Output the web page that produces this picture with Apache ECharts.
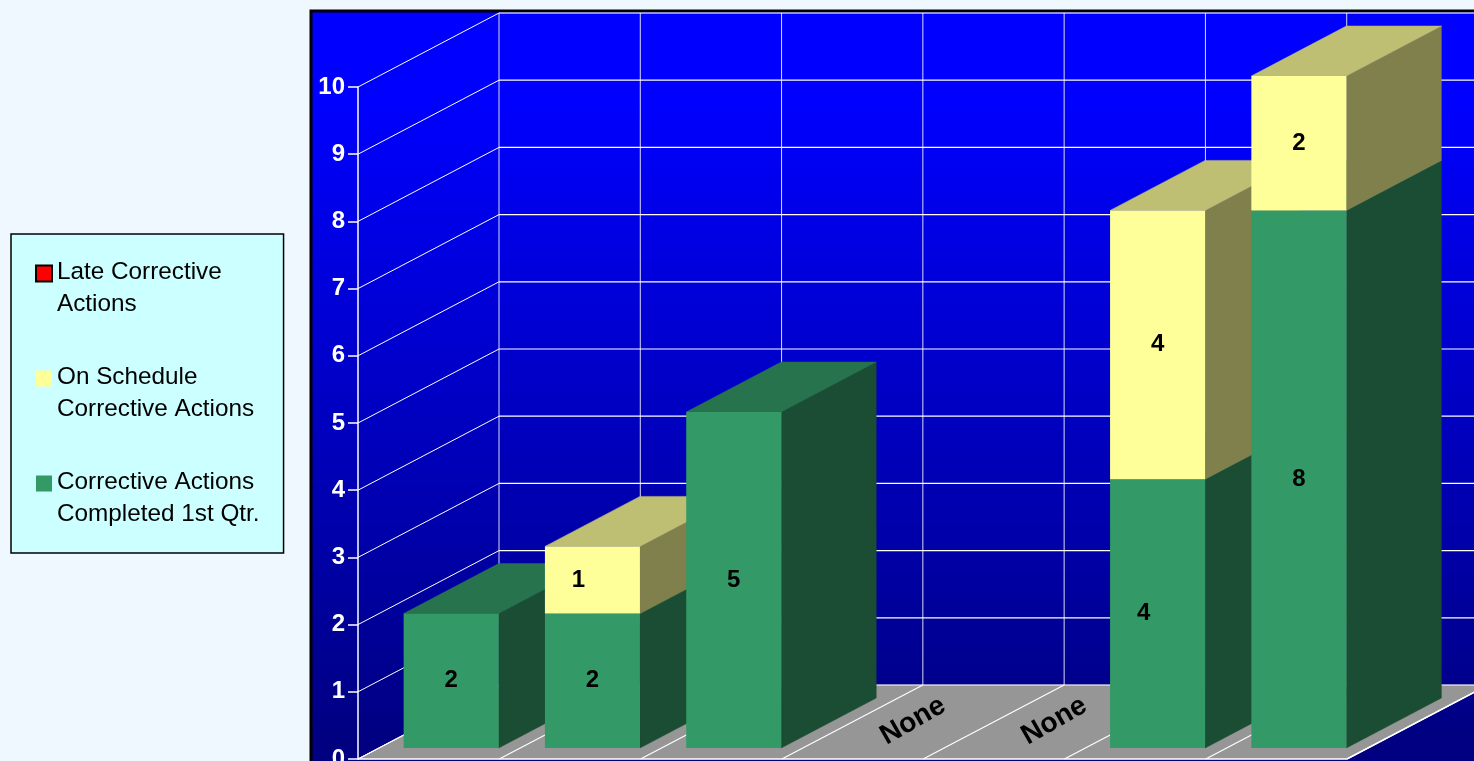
<!DOCTYPE html>
<html><head><meta charset="utf-8">
<style>html,body{margin:0;padding:0;background:#F0F8FF;overflow:hidden}#c{width:1474px;height:761px}</style>
<script src="https://cdn.jsdelivr.net/npm/echarts@6/dist/echarts.min.js"></script>
</head><body><div id="c"></div>
<script>
const categories = ['1', '2', '3', '4', '5', '6', '7'];
const seriesNames = ['Late Corrective\nActions', 'On Schedule\nCorrective Actions', 'Corrective Actions\nCompleted 1st Qtr.'];
const completed = [2, 2, 5, 0, 0, 4, 8];
const onSchedule = [0, 1, 0, 0, 0, 4, 2];
const late = [0, 0, 0, 0, 0, 0, 0];
const noneLabel = 'None';
const yTicks = [0, 1, 2, 3, 4, 5, 6, 7, 8, 9, 10];

const FONT = '"Liberation Sans", Arial, sans-serif';
const DX = 141, DY = 74;          // wall depth in px
const BAR_W = 95, BAR_DX = 95, BAR_DY = 50, FRONT_DX = 22.5, FRONT_DY = 11;
const labelNudge = {'1:1': -14, '5:0': -14};
const ICON = 'path://M0 0H16V16H0ZM16 46L16 46';

const chart = echarts.init(document.getElementById('c'));

function band(api, i) {
  const c = api.coord([i, 0]);
  const w = api.size([1, 0])[0];
  return {cx: c[0], y0: c[1], w};
}
const poly = (pts, fill, z2, stroke) => ({type: 'polygon', z2, shape: {points: pts},
  style: {fill, stroke: stroke || fill, lineWidth: stroke ? 1 : 0.5}, silent: true});
const seg = (a, b, z2, w, op) => ({type: 'line', z2, shape: {x1: a[0], y1: a[1], x2: b[0], y2: b[1]},
  style: {stroke: '#fff', lineWidth: w || 1, opacity: op == null ? 1 : op}, silent: true});

// Walls and floor, projected from the axis scales
function renderWalls(params, api) {
  const n = categories.length;
  const b0 = band(api, 0), bN = band(api, n - 1);
  const xL = b0.cx - b0.w / 2, xR = bN.cx + bN.w / 2, y0 = b0.y0;
  const yTop = api.coord([0, 10])[1];
  const ch = [];
  ch.push(poly([[xL, y0], [xR, y0], [xR + DX, y0 - DY], [xL + DX, y0 - DY]], '#969696', 1));
  for (const v of yTicks) {
    const y = api.coord([0, v])[1];
    ch.push(seg([xL, y], [xL + DX, y - DY], 2, 1));
    ch.push(seg([xL + DX, y - DY], [xR + DX, y - DY], 2, v === 10 ? 1.5 : 1.2, v === 10 ? 0.75 : 1));
  }
  for (let i = 0; i <= n; i++) {
    const x = xL + b0.w * i;
    ch.push(seg([x, y0], [x + DX, y0 - DY], 2, 1.2));
    if (i < n) ch.push(seg([x + DX, y0 - DY], [x + DX, yTop - DY], 2, 1, 0.85));
  }
  ch.push(seg([xL, y0], [xR, y0], 3, 1.5));
  ch.push(seg([xR, y0], [xR + DX, y0 - DY], 3, 1.5));
  return {type: 'group', children: ch};
}

function makeRender(front, top, side, segIdx) {
  return function (params, api) {
    const i = api.value(0), base = api.value(1), val = api.value(2);
    if (!val) return {type: 'group', children: []};
    const b = band(api, i);
    const xl = b.cx + FRONT_DX - BAR_W / 2, xr = xl + BAR_W;
    const yb = api.coord([i, base])[1] - FRONT_DY;
    const yt = api.coord([i, base + val])[1] - FRONT_DY;
    const z = 10 + i * 10 + segIdx * 2;
    const nudge = labelNudge[i + ':' + segIdx] || 0;
    return {type: 'group', children: [
      poly([[xr, yb], [xr + BAR_DX, yb - BAR_DY], [xr + BAR_DX, yt - BAR_DY], [xr, yt]], side, z),
      poly([[xl, yt], [xr, yt], [xr + BAR_DX, yt - BAR_DY], [xl + BAR_DX, yt - BAR_DY]], top, z),
      {type: 'rect', z2: z + 1, shape: {x: xl, y: yt, width: BAR_W, height: yb - yt}, style: {fill: front}, silent: true},
      {type: 'text', z2: z + 1, style: {text: String(val), x: (xl + xr) / 2 + nudge, y: (yt + yb) / 2,
        align: 'center', verticalAlign: 'middle', fill: '#000', font: 'bold 24px ' + FONT}, silent: true}
    ]};
  };
}

function renderNone(params, api) {
  const i = api.value(0);
  if (completed[i] + onSchedule[i] + late[i] > 0) return {type: 'group', children: []};
  const b = band(api, i);
  const x = b.cx + DX / 2 - 10, y = b.y0 - DY / 2 - 1;
  return {type: 'text', z2: 5, x, y, rotation: 0.52, originX: 0, originY: 0,
    style: {text: noneLabel, x: 0, y: 0, align: 'center', verticalAlign: 'middle', fill: '#000', font: 'bold 28px ' + FONT}, silent: true};
}

function stackData(arr, below) {
  return categories.map((c, i) => [i, below.reduce((s, a) => s + a[i], 0), arr[i]]);
}

chart.setOption({
  animation: false,
  backgroundColor: '#F0F8FF',
  textStyle: {fontFamily: FONT},
  graphic: [{type: 'rect', z: -10, shape: {x: 311, y: 11, width: 1200, height: 800},
    style: {stroke: '#000', lineWidth: 3,
      fill: new echarts.graphic.LinearGradient(0, 0, 0, 1, [
        {offset: 0, color: '#0000FF'}, {offset: 0.11, color: '#0000FF'}, {offset: 0.92, color: '#000080'}, {offset: 1, color: '#000080'}])}}],
  legend: {
    orient: 'vertical', left: 11, top: 234, selectedMode: false,
    data: seriesNames.map(name => ({name, icon: ICON})),
    itemWidth: 16, itemHeight: 46, itemGap: 42,
    padding: [23, 24, 23, 24],
    backgroundColor: '#CCFFFF', borderColor: '#000', borderWidth: 1.5,
    textStyle: {color: '#000', fontFamily: FONT, fontSize: 24.3, lineHeight: 31.5}
  },
  grid: {left: 358, right: 127, top: 87, bottom: 2, outerBoundsMode: 'none'},
  xAxis: {type: 'category', data: categories, axisLine: {show: false}, axisTick: {show: false}, axisLabel: {show: false}, splitLine: {show: false}},
  yAxis: {type: 'value', min: 0, max: 10, interval: 1,
    axisLine: {show: true, lineStyle: {color: '#fff', width: 1.5}},
    axisTick: {show: true, length: 10, lineStyle: {color: '#fff', width: 1.5}},
    axisLabel: {color: '#fff', fontWeight: 'bold', fontSize: 24, fontFamily: FONT, margin: 13, padding: [6, 0, 0, 0]},
    splitLine: {show: false}, z: 4},
  series: [
    {type: 'custom', name: 'walls', data: categories.slice(0, 1).map((c, i) => [i]), encode: {x: 0}, renderItem: renderWalls, silent: true, z: 1},
    {type: 'custom', name: 'none', data: categories.map((c, i) => [i]), encode: {x: 0}, renderItem: renderNone, silent: true, z: 2},
    {type: 'custom', name: seriesNames[2], data: stackData(completed, []), encode: {x: 0, y: 2}, itemStyle: {color: '#339966'},
      renderItem: makeRender('#339966', '#26734D', '#1A4D33', 0), z: 2},
    {type: 'custom', name: seriesNames[1], data: stackData(onSchedule, [completed]), encode: {x: 0, y: 2}, itemStyle: {color: '#FFFF99'},
      renderItem: makeRender('#FFFF99', '#BFBF73', '#80804D', 1), z: 2},
    {type: 'custom', name: seriesNames[0], data: stackData(late, [completed, onSchedule]), encode: {x: 0, y: 2}, itemStyle: {color: '#FF0000', borderColor: '#000', borderWidth: 1.5},
      renderItem: makeRender('#FF0000', '#BF0000', '#800000', 2), z: 2}
  ]
});
</script></body></html>
